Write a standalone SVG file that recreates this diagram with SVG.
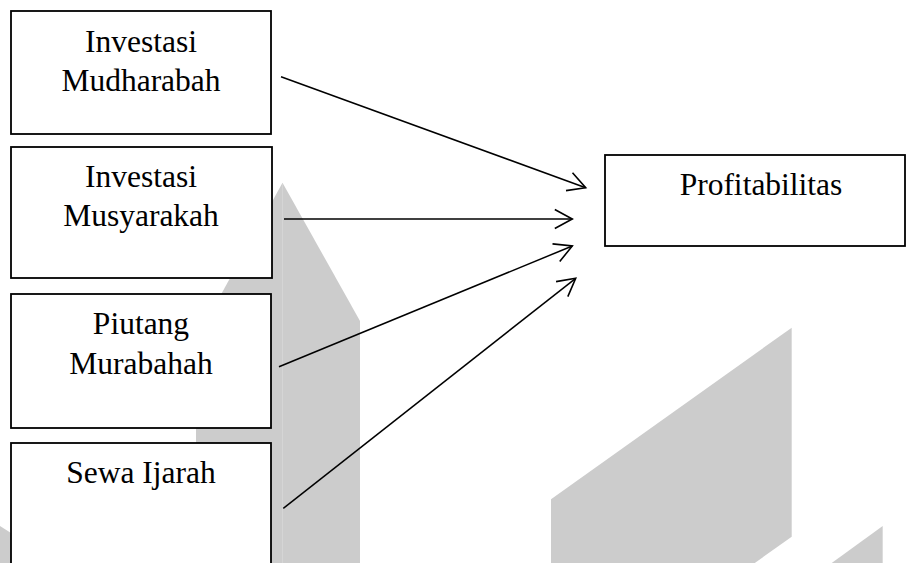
<svg xmlns="http://www.w3.org/2000/svg" width="907" height="563" viewBox="0 0 907 563">
<defs>
<style>
.wm{fill:#cccccc;stroke:none}
.box{fill:#ffffff;stroke:#000000;stroke-width:1.8}
.lbl{font-family:"Liberation Serif","Times New Roman",serif;font-size:31.5px;fill:#000000;text-anchor:middle}
.conn{stroke:#000000;stroke-width:1.5;fill:none}
</style>
<marker id="arr" markerUnits="userSpaceOnUse" markerWidth="30" markerHeight="30" viewBox="-22 -15 30 30" refX="0" refY="0" orient="auto">
<path d="M-17.5,-9.5 L0,0 L-17.5,9.5" fill="none" stroke="#000000" stroke-width="1.6"/>
</marker>
</defs>
<rect width="907" height="563" fill="#ffffff"/>
<g id="watermark">
<polygon class="wm" points="282.5,182.7 360,321 360,563 196,563 196,340"/>
<line x1="282.5" y1="184" x2="282.5" y2="563" stroke="#d5d5d5" stroke-width="1"/>
<polygon class="wm" points="0,526 11,533 11,563 0,563"/>
<polygon class="wm" points="551,499.3 791.7,327.7 791.7,536.7 754.8,563 551,563"/>
<polygon class="wm" points="831.7,563 882.7,526 882.7,563"/>
</g>
<g id="connectors">
<line class="conn" x1="281" y1="76.7" x2="585.7" y2="187.7" marker-end="url(#arr)"/>
<line class="conn" x1="284" y1="219" x2="572.3" y2="219" marker-end="url(#arr)"/>
<line class="conn" x1="279" y1="366.7" x2="572.3" y2="246" marker-end="url(#arr)"/>
<line class="conn" x1="283.3" y1="508.3" x2="575.7" y2="278.3" marker-end="url(#arr)"/>
</g>
<g id="node-mudharabah">
<rect class="box" x="11" y="11" width="260" height="123"/>
<text class="lbl" x="141" y="51.7">Investasi</text>
<text class="lbl" x="141" y="90.7">Mudharabah</text>
</g>
<g id="node-musyarakah">
<rect class="box" x="11" y="147" width="261" height="131"/>
<text class="lbl" x="141" y="186.7">Investasi</text>
<text class="lbl" x="141" y="226">Musyarakah</text>
</g>
<g id="node-murabahah">
<rect class="box" x="11" y="294" width="260" height="134"/>
<text class="lbl" x="141" y="334">Piutang</text>
<text class="lbl" x="141" y="374">Murabahah</text>
</g>
<g id="node-ijarah">
<rect class="box" x="11" y="443" width="260" height="140"/>
<text class="lbl" x="141" y="483">Sewa Ijarah</text>
</g>
<g id="node-profitabilitas">
<rect class="box" x="605" y="155" width="300" height="91"/>
<text class="lbl" x="761" y="195">Profitabilitas</text>
</g>
</svg>
